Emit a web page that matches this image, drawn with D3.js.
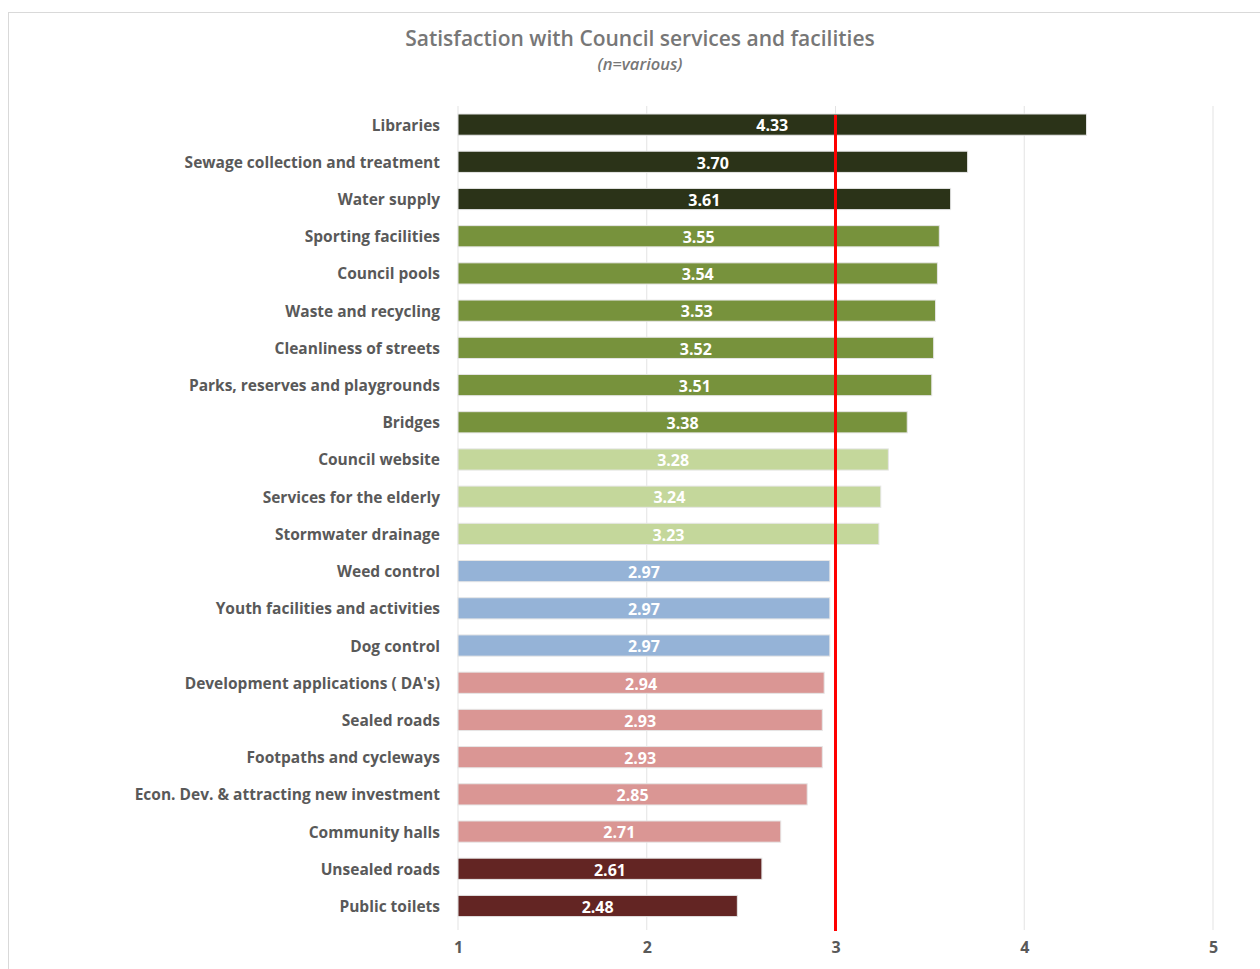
<!doctype html>
<html>
  <head>
    <meta charset="utf-8">
    <title>Satisfaction with Council services and facilities</title>
    <script src="https://cdn.jsdelivr.net/npm/d3@7"></script>
    <style>
      body { margin: 0; background: #fff; }
      text { font-family: "Open Sans", sans-serif; }
    </style>
  </head>
  <body>
    <script>
      // 数据
      const categories = [
        'Libraries', 'Sewage collection and treatment', 'Water supply',
        'Sporting facilities', 'Council pools', 'Waste and recycling',
        'Cleanliness of streets', 'Parks, reserves and playgrounds', 'Bridges',
        'Council website', 'Services for the elderly', 'Stormwater drainage',
        'Weed control', 'Youth facilities and activities', 'Dog control',
        "Development applications ( DA's)", 'Sealed roads', 'Footpaths and cycleways',
        'Econ. Dev. & attracting new investment', 'Community halls',
        'Unsealed roads', 'Public toilets'
      ];
      const values = [
        4.33, 3.70, 3.61, 3.55, 3.54, 3.53, 3.52, 3.51, 3.38, 3.28, 3.24,
        3.23, 2.97, 2.97, 2.97, 2.94, 2.93, 2.93, 2.85, 2.71, 2.61, 2.48
      ];
      // 每个条形所属的色组
      const groups = [
        0, 0, 0, 1, 1, 1, 1, 1, 1, 2, 2, 2, 3, 3, 3, 4, 4, 4, 4, 4, 5, 5
      ];
      const groupColors = ['#2b3318', '#77923c', '#c4d79b', '#95b3d7', '#da9694', '#632523'];
      const xTicks = [1, 2, 3, 4, 5];
      const benchmark = 3;

      const width = 1260;
      const height = 969;

      const svg = d3.select('body').append('svg')
          .attr('width', width)
          .attr('height', height);

      // 图表外框
      svg.append('rect')
          .attr('x', 8.5)
          .attr('y', 12.5)
          .attr('width', 1270)
          .attr('height', 990)
          .attr('fill', '#fff')
          .attr('stroke', '#d9d9d9');

      // 标题
      svg.append('text')
          .attr('x', 640)
          .attr('y', 46)
          .attr('text-anchor', 'middle')
          .attr('font-size', 21)
          .attr('font-weight', 600)
          .attr('fill', '#777777')
          .text('Satisfaction with Council services and facilities');

      svg.append('text')
          .attr('x', 640)
          .attr('y', 70)
          .attr('text-anchor', 'middle')
          .attr('font-size', 16.5)
          .attr('font-weight', 600)
          .attr('font-style', 'italic')
          .attr('fill', '#777777')
          .text('(n=various)');

      // 比例尺
      const x = d3.scaleLinear()
          .domain([1, 5])
          .range([458, 1213]);

      const y = d3.scaleBand()
          .domain(categories)
          .range([106, 924.6])
          .paddingInner(0.43)
          .paddingOuter(0.215);

      // 网格线
      svg.append('g')
        .selectAll('line')
        .data(xTicks)
        .enter().append('line')
          .attr('x1', d => x(d))
          .attr('x2', d => x(d))
          .attr('y1', 106)
          .attr('y2', 930)
          .attr('stroke', '#e3e3e3')
          .attr('stroke-width', 1);

      // 条形
      svg.append('g')
        .selectAll('rect')
        .data(values)
        .enter().append('rect')
          .attr('x', x(1))
          .attr('y', (d, i) => y(categories[i]))
          .attr('width', d => x(d) - x(1))
          .attr('height', y.bandwidth())
          .attr('fill', (d, i) => groupColors[groups[i]])
          .attr('stroke', '#e6e6e6')
          .attr('stroke-width', 1);

      // 数值标签
      svg.append('g')
        .selectAll('text')
        .data(values)
        .enter().append('text')
          .attr('x', d => (x(1) + x(d)) / 2)
          .attr('y', (d, i) => y(categories[i]) + y.bandwidth() / 2 + 1)
          .attr('dy', '0.36em')
          .attr('text-anchor', 'middle')
          .attr('font-size', 16)
          .attr('font-weight', 700)
          .attr('fill', '#fff')
          .text(d => d.toFixed(2));

      // 类别轴
      const yAxis = svg.append('g')
          .attr('transform', `translate(${x(1) - 18},1)`)
          .call(d3.axisLeft(y).tickSize(0).tickPadding(0));
      yAxis.select('.domain').remove();
      yAxis.selectAll('text')
          .attr('font-family', '"Open Sans", sans-serif')
          .attr('font-size', 15.5)
          .attr('font-weight', 700)
          .attr('fill', '#595959');

      // 数值轴
      const xAxis = svg.append('g')
          .attr('transform', 'translate(0,940)')
          .call(d3.axisBottom(x).tickValues(xTicks).tickFormat(d3.format('d')).tickSize(0).tickPadding(2));
      xAxis.select('.domain').remove();
      xAxis.selectAll('text')
          .attr('font-family', '"Open Sans", sans-serif')
          .attr('font-size', 16)
          .attr('font-weight', 700)
          .attr('fill', '#595959');

      // 基准线
      svg.append('line')
          .attr('x1', x(benchmark))
          .attr('x2', x(benchmark))
          .attr('y1', 115)
          .attr('y2', 931)
          .attr('stroke', '#ff0000')
          .attr('stroke-width', 3);
    </script>
  </body>
</html>
